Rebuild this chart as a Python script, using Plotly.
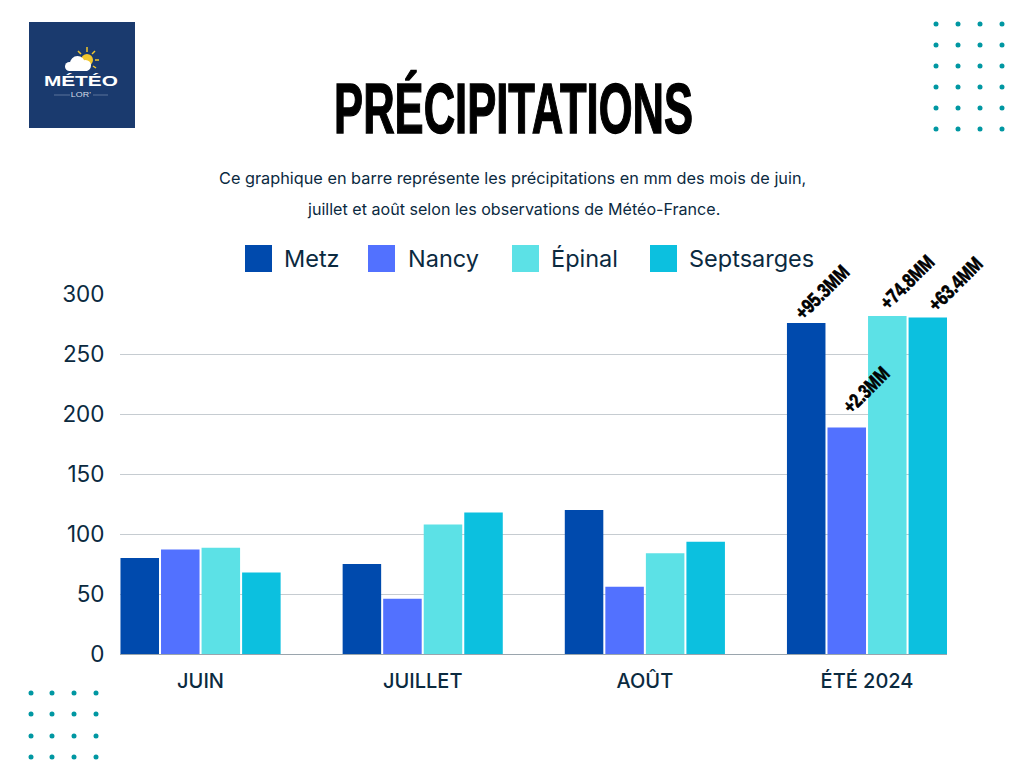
import json
import plotly.graph_objects as go

categories = ["JUIN", "JUILLET", "AOÛT", "ÉTÉ 2024"]
metz = [80, 75, 120, 275.8]
nancy = [87, 46, 56, 188.8]
epinal = [88.5, 108, 84, 281.7]
septsarges = [68, 118, 93.5, 280.4]
series_names = ["Metz", "Nancy", "Épinal", "Septsarges"]
series_colors = ["#004AAD", "#5271FF", "#5CE1E6", "#0CC0DF"]
summer_labels = ["+95.3MM", "+2.3MM", "+74.8MM", "+63.4MM"]

W, H = 1024, 768
L, R, T, B = 120, 947, 294, 654
DARK = "#0B2A3F"
BODY = "Inter"
HEAVY = "Liberation Sans"


def fx(px):
    return (px - L) / (R - L)


def fy(py):
    return (B - py) / (B - T)


def pshape(kind, x0, y0, x1, y1, color):
    return dict(type=kind, xref="paper", yref="paper", x0=fx(x0), x1=fx(x1),
                y0=fy(y0), y1=fy(y1), fillcolor=color, line_width=0, layer="above")


def pline(x0, y0, x1, y1, color, width=1.5):
    return dict(type="line", xref="paper", yref="paper", x0=fx(x0), x1=fx(x1),
                y0=fy(y0), y1=fy(y1), line=dict(color=color, width=width), layer="above")


def ptext(text, px, py, size, color=DARK, family=BODY, xanchor="center", weight=None):
    f = dict(size=size, color=color, family=family)
    if weight:
        f["weight"] = weight
    return dict(text=text, xref="paper", yref="paper", x=fx(px), y=fy(py), showarrow=False,
                xanchor=xanchor, yanchor="middle", font=f)


fig = go.Figure()
all_values = [metz, nancy, epinal, septsarges]
for name, vals, col in zip(series_names, all_values, series_colors):
    fig.add_bar(name=name, x=categories, y=vals, marker_color=col, marker_line_width=0,
                cliponaxis=False, showlegend=False)

shapes = []
annotations = []

# logo
shapes.append(pshape("rect", 29, 22, 135, 128, "#1A3A6E"))
shapes.append(pshape("circle", 81, 54, 93, 66, "#F2C72E"))
for a in [(87, 47, 87, 52), (78, 51, 81, 54), (95, 51, 92, 54), (95, 60, 99, 60), (93, 66, 96, 68)]:
    shapes.append(pline(*a, "#F2C72E"))
for cx0, cy0, d in [(65, 62, 9), (70, 56, 15), (80, 60, 11)]:
    shapes.append(pshape("circle", cx0, cy0, cx0 + d, cy0 + d, "#FFFFFF"))
shapes.append(pshape("rect", 69, 65, 87, 71, "#FFFFFF"))
annotations.append(ptext("MÉTÉO", 81, 81, 14, "#FFFFFF", "Liberation Sans", weight="bold"))
annotations.append(ptext("LOR'", 81, 94.5, 7, "#D5DCE8", "Liberation Sans"))
shapes.append(pshape("rect", 54, 94.5, 70, 95.5, "#5A729B"))
shapes.append(pshape("rect", 93, 94.5, 108, 95.5, "#5A729B"))

# dots
for x in [936, 958, 980, 1002]:
    for y in [24, 45, 66, 87, 108, 129]:
        shapes.append(pshape("circle", x - 2.5, y - 2.5, x + 2.5, y + 2.5, "#0097A2"))
for x in [31, 52, 74, 96]:
    for y in [693, 714, 736, 757]:
        shapes.append(pshape("circle", x - 2.5, y - 2.5, x + 2.5, y + 2.5, "#0097A2"))

# title
annotations.append(ptext("PRÉCIPITATIONS", 513, 108, 71, "#000000", HEAVY, weight="bold"))
annotations.append(ptext("Ce graphique en barre représente les précipitations en mm des mois de juin,", 512.5, 178, 16.3, DARK))
annotations.append(ptext("juillet et août selon les observations de Météo-France.", 513, 209, 16.1, DARK))

# legend
for name, col, sx, tx in zip(series_names, series_colors, [245, 368, 512, 650], [281.5, 405.5, 548.5, 686.5]):
    shapes.append(pshape("rect", sx, 245, sx + 27, 272, col))
    annotations.append(ptext(name, tx, 258, 23.5, DARK, xanchor="left"))

# summer labels, placed from the bar tops
centres = [822, 866, 907, 955]
lifts = [31, 37, 34, 34]
for lab, vals, cx, lift in zip(summer_labels, all_values, centres, lifts):
    annotations.append(dict(text=lab, x=3, y=vals[3], xref="x", yref="y", showarrow=False,
                            xanchor="center", yanchor="middle", textangle=-45,
                            xshift=cx - 867, yshift=lift,
                            font=dict(size=20, color="#000000", family=HEAVY, weight="bold")))

fig.update_layout(
    width=W, height=H, autosize=False,
    margin=dict(l=L, r=W - R, t=T, b=H - B, pad=0, autoexpand=False),
    paper_bgcolor="#FFFFFF", plot_bgcolor="#FFFFFF",
    barmode="group", bargap=0.27, bargroupgap=0.05,
    shapes=shapes, annotations=annotations,
    font=dict(family=BODY, color=DARK),
    xaxis=dict(type="category", range=[-0.3626, 3.36], showgrid=False, showline=True,
               linecolor="#9AA5AD", linewidth=1, ticks="outside", ticklen=9, tickcolor="rgba(0,0,0,0)",
               tickfont=dict(size=20, color=DARK, family=BODY, weight=500), fixedrange=True),
    yaxis=dict(range=[0, 300], tickvals=[0, 50, 100, 150, 200, 250, 300], showgrid=True,
               gridcolor="#C6CCD1", gridwidth=1, zeroline=False, showline=False,
               ticks="outside", ticklen=10, tickcolor="rgba(0,0,0,0)",
               tickfont=dict(size=22.5, color=DARK, family=BODY), fixedrange=True),
)

# horizontal condensing of the heavy display text: text -> [target length px, stroke px]
condense = {"PRÉCIPITATIONS": [359, 1.4], "MÉTÉO": [74, 0.0], "LOR'": [20, 0.0]}
for lab, length in zip(summer_labels, [67, 56, 67, 67]):
    condense[lab] = [length, 0.7]

post = """
document.body.style.margin = '0';
var C = %s;
document.querySelectorAll('text.annotation-text').forEach(function (t) {
  var c = C[t.textContent];
  if (!c) return;
  var b = t.getBBox(), cx = b.x + b.width / 2, s = c[0] / t.getComputedTextLength();
  t.setAttribute('transform', 'translate(' + cx + ',0) scale(' + s + ',1) translate(' + (-cx) + ',0)');
  if (c[1]) { t.style.stroke = t.style.fill || '#000'; t.style.strokeWidth = c[1] + 'px'; }
});
""" % json.dumps(condense, ensure_ascii=False)

fig.write_html("out.html", post_script=post, config={"displayModeBar": False})
